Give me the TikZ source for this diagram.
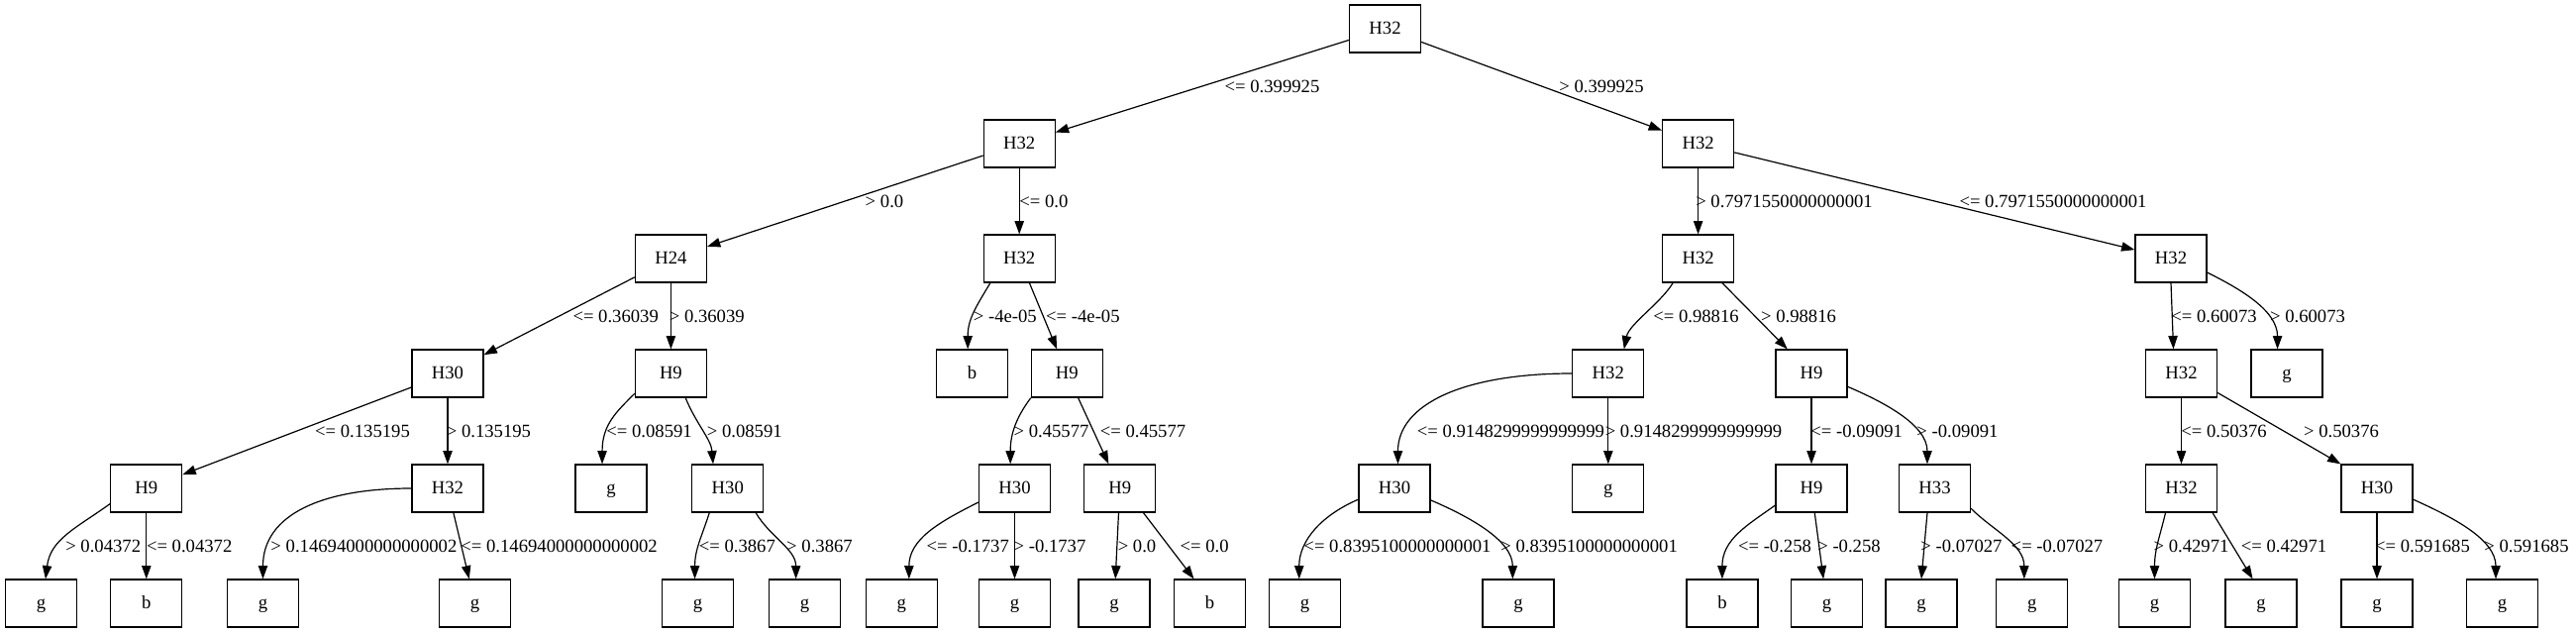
\documentclass[tikz,border=0pt]{standalone}
\usepackage{fontspec}
\setmainfont{Liberation Serif}
\usetikzlibrary{arrows.meta}
\begin{document}
\begin{tikzpicture}[x=0.75pt,y=-0.75pt,
  every node/.style={font=\fontsize{14pt}{16pt}\selectfont},
  box/.style={draw, line width=0.9pt, rectangle, minimum width=54pt, minimum height=36pt, inner sep=0pt, text height=9.5pt, text depth=2pt},
  lbl/.style={inner sep=0pt, text height=9.5pt, text depth=0pt},
  edge/.style={line width=0.9pt, -{Triangle[length=10pt,width=7pt]}}]
\fill[white] (0,0) rectangle (2601,639);
\useasboundingbox (0,0) rectangle (2601,639);
% row 0
\node[box] (n0) at (1398.5,29) {H32};
% row 1
\node[box] (n1) at (1029.2,145) {H32};
\node[box] (n2) at (1714.6,145) {H32};
% row 2
\node[box] (n3) at (677.4,261) {H24};
\node[box] (n4) at (1029.2,261) {H32};
\node[box] (n5) at (1714.6,261) {H32};
\node[box] (n6) at (2192,261) {H32};
% row 3
\node[box] (n7) at (452,377) {H30};
\node[box] (n8) at (677.4,377) {H9};
\node[box] (n9) at (981.5,377) {b};
\node[box] (n10) at (1077.3,377) {H9};
\node[box] (n11) at (1623.8,377) {H32};
\node[box] (n12) at (1829,377) {H9};
\node[box] (n13) at (2202.5,377) {H32};
\node[box] (n14) at (2309,377) {g};
% row 4
\node[box] (n15) at (147.8,493) {H9};
\node[box] (n16) at (452,493) {H32};
\node[box] (n17) at (617,493) {g};
\node[box] (n18) at (734.8,493) {H30};
\node[box] (n19) at (1024.5,493) {H30};
\node[box] (n20) at (1130.7,493) {H9};
\node[box] (n21) at (1408,493) {H30};
\node[box] (n22) at (1623.8,493) {g};
\node[box] (n23) at (1829,493) {H9};
\node[box] (n24) at (1953.5,493) {H33};
\node[box] (n25) at (2202.5,493) {H32};
\node[box] (n26) at (2400,493) {H30};
% row 5
\node[box] (n27) at (41.6,609) {g};
\node[box] (n28) at (147.8,609) {b};
\node[box] (n29) at (265.5,609) {g};
\node[box] (n30) at (479.6,609) {g};
\node[box] (n31) at (704.6,609) {g};
\node[box] (n32) at (812.6,609) {g};
\node[box] (n33) at (910.3,609) {g};
\node[box] (n34) at (1024.5,609) {g};
\node[box] (n35) at (1125,609) {g};
\node[box] (n36) at (1221.5,609) {b};
\node[box] (n37) at (1317.4,609) {g};
\node[box] (n38) at (1533,609) {g};
\node[box] (n39) at (1738.9,609) {b};
\node[box] (n40) at (1844.4,609) {g};
\node[box] (n41) at (1940,609) {g};
\node[box] (n42) at (2051.8,609) {g};
\node[box] (n43) at (2175.5,609) {g};
\node[box] (n44) at (2283,609) {g};
\node[box] (n45) at (2400,609) {g};
\node[box] (n46) at (2526.6,609) {g};
% straight edges
\draw[edge] (n0) -- (n1);
\draw[edge] (n0) -- (n2);
\draw[edge] (n1) -- (n3);
\draw[edge] (n1) -- (n4);
\draw[edge] (n2) -- (n5);
\draw[edge] (n2) -- (n6);
\draw[edge] (n3) -- (n7);
\draw[edge] (n3) -- (n8);
\draw[edge] (n7) -- (n15);
\draw[edge] (n7) -- (n16);
\draw[edge] (n4) -- (n10);
\draw[edge] (n10) -- (n20);
\draw[edge] (n5) -- (n12);
\draw[edge] (n12) -- (n23);
\draw[edge] (n11) -- (n22);
\draw[edge] (n13) -- (n25);
\draw[edge] (n16) -- (n30);
\draw[edge] (n20) -- (n35);
\draw[edge] (n19) -- (n34);
\draw[edge] (n23) -- (n40);
\draw[edge] (n26) -- (n45);
\draw[edge] (n15) -- (n28);
\draw[edge] (n6.south) -- (n13.108);
\draw[edge] (n13.332) -- (n26.north west);
\draw[edge] (n20.314) -- (n36.123);
\draw[edge] (n24.253) -- (n41.north);
\draw[edge] (n25.322) -- (n44.109);
% curved edges
\draw[edge] (n8.209) .. controls +(-18,18) and +(0,-40) .. (n17.110);
\draw[edge] (n8.301) .. controls +(10,25) and +(-2,-25) .. (n18.121);
\draw[edge] (n15.203) .. controls +(-35,25) and +(5,-40) .. (n27.80);
\draw[edge] (n16.west) .. controls +(-90,0) and +(0,-65) .. (n29.north);
\draw[edge] (n18.233) .. controls +(-8,25) and +(0,-30) .. (n31.97);
\draw[edge] (n18.319) .. controls +(15,25) and +(0,-30) .. (n32.110);
\draw[edge] (n4.220) .. controls +(-15,25) and +(0,-30) .. (n9.100);
\draw[edge] (n10.214) .. controls +(-15,20) and +(0,-30) .. (n19.100);
\draw[edge] (n19.201) .. controls +(-40,20) and +(0,-40) .. (n33.73);
\draw[edge] (n5.224) .. controls +(-12,20) and +(5,-25) .. (n11.57);
\draw[edge] (n11.west) .. controls +(-110,0) and +(0,-60) .. (n21.82);
\draw[edge] (n21.197) .. controls +(-35,15) and +(0,-40) .. (n37.103);
\draw[edge] (n21.342) .. controls +(35,15) and +(0,-40) .. (n38.103);
\draw[edge] (n12.340) .. controls +(35,15) and +(0,-40) .. (n24.107);
\draw[edge] (n23.205) .. controls +(-28,20) and +(0,-40) .. (n39.north);
\draw[edge] (n24.331) .. controls +(22,22) and +(0,-35) .. (n42.108);
\draw[edge] (n6.339) .. controls +(30,15) and +(0,-40) .. (n14.111);
\draw[edge] (n25.237) .. controls +(-6,25) and +(0,-30) .. (n43.north);
\draw[edge] (n26.343) .. controls +(40,18) and +(0,-40) .. (n46.105);
% labels row 0-1
\node[lbl] (l1) at (1284.5,87) {<= 0.399925};
\node[lbl] (l2) at (1617,87) {> 0.399925};
% labels row 1-2
\node[lbl] (l3) at (893,203) {> 0.0};
\node[lbl] (l4) at (1053.8,203) {<= 0.0};
\node[lbl] (l5) at (1801.5,203) {> 0.7971550000000001};
\node[lbl] (l6) at (2073,203) {<= 0.7971550000000001};
% labels row 2-3
\node[lbl] (l7) at (621.7,319) {<= 0.36039};
\node[lbl] (l8) at (713.8,319) {> 0.36039};
\node[lbl] (l9) at (1014.8,319) {> -4e-05};
\node[lbl] (l10) at (1093.4,319) {<= -4e-05};
\node[lbl] (l11) at (1712.5,319) {<= 0.98816};
\node[lbl] (l12) at (1816,319) {> 0.98816};
\node[lbl] (l13) at (2235.5,319) {<= 0.60073};
\node[lbl] (l14) at (2330,319) {> 0.60073};
% labels row 3-4
\node[lbl] (l15) at (366,435) {<= 0.135195};
\node[lbl] (l16) at (493.4,435) {> 0.135195};
\node[lbl] (l17) at (655.6,435) {<= 0.08591};
\node[lbl] (l18) at (751.8,435) {> 0.08591};
\node[lbl] (l19) at (1061.5,435) {> 0.45577};
\node[lbl] (l20) at (1154,435) {<= 0.45577};
\node[lbl] (l21) at (1525.4,435) {<= 0.9148299999999999};
\node[lbl] (l22) at (1710,435) {> 0.9148299999999999};
\node[lbl] (l23) at (1874.7,435) {<= -0.09091};
\node[lbl] (l24) at (1976.5,435) {> -0.09091};
\node[lbl] (l25) at (2245.5,435) {<= 0.50376};
\node[lbl] (l26) at (2364,435) {> 0.50376};
% labels row 4-5
\node[lbl] (l27) at (104.2,551) {> 0.04372};
\node[lbl] (l28) at (191.2,551) {<= 0.04372};
\node[lbl] (l29) at (367.4,551) {> 0.14694000000000002};
\node[lbl] (l30) at (564.6,551) {<= 0.14694000000000002};
\node[lbl] (l31) at (744.3,551) {<= 0.3867};
\node[lbl] (l32) at (827.5,551) {> 0.3867};
\node[lbl] (l33) at (977.2,551) {<= -0.1737};
\node[lbl] (l34) at (1060,551) {> -0.1737};
\node[lbl] (l35) at (1148,551) {> 0.0};
\node[lbl] (l36) at (1216.2,551) {<= 0.0};
\node[lbl] (l37) at (1411,551) {<= 0.8395100000000001};
\node[lbl] (l38) at (1604.6,551) {> 0.8395100000000001};
\node[lbl] (l39) at (1792,551) {<= -0.258};
\node[lbl] (l40) at (1867,551) {> -0.258};
\node[lbl] (l41) at (1980.5,551) {> -0.07027};
\node[lbl] (l42) at (2077,551) {<= -0.07027};
\node[lbl] (l43) at (2212.5,551) {> 0.42971};
\node[lbl] (l44) at (2306,551) {<= 0.42971};
\node[lbl] (l45) at (2446,551) {<= 0.591685};
\node[lbl] (l46) at (2551,551) {> 0.591685};
\end{tikzpicture}
\end{document}
